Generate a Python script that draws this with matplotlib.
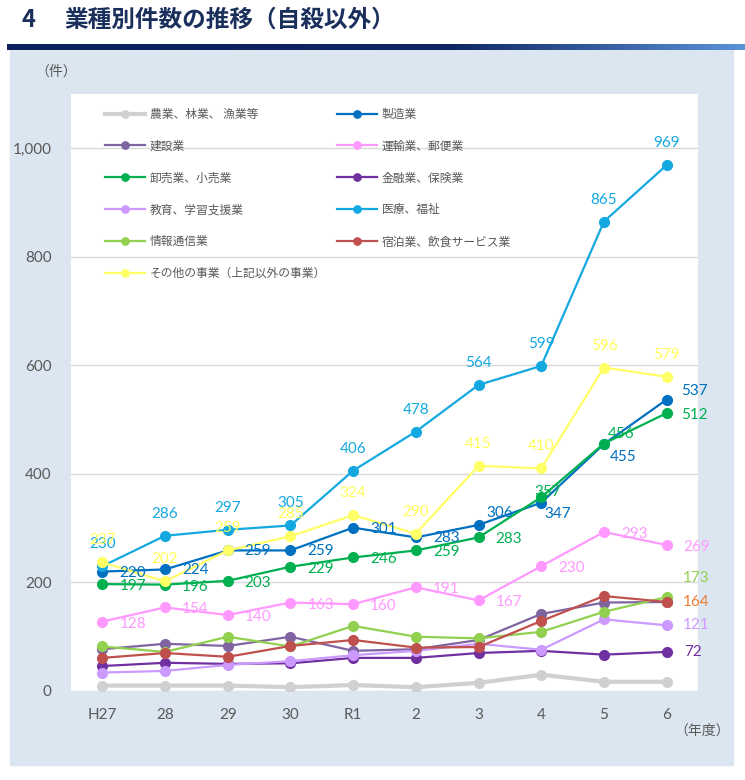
import numpy as np
import matplotlib
matplotlib.use('Agg')
import matplotlib.pyplot as plt
from matplotlib.patches import Rectangle
from matplotlib.colors import LinearSegmentedColormap
from matplotlib.ticker import FuncFormatter

plt.rcParams['font.family'] = ['Lato', 'Noto Sans CJK JP']

# データ
years = ['H27', '28', '29', '30', 'R1', '2', '3', '4', '5', '6']
agri = [10, 10, 10, 7, 11, 7, 15, 30, 17, 17]
manuf = [220, 224, 259, 259, 301, 283, 306, 347, 455, 537]
constr = [77, 87, 83, 100, 74, 77, 94, 142, 163, 164]
transport = [128, 154, 140, 163, 160, 191, 167, 230, 293, 269]
wholesale = [197, 196, 203, 229, 246, 259, 283, 357, 456, 512]
finance = [46, 52, 50, 51, 61, 61, 70, 74, 67, 72]
edu = [34, 37, 48, 55, 66, 74, 87, 76, 132, 121]
medical = [230, 286, 297, 305, 406, 478, 564, 599, 865, 969]
info = [82, 72, 100, 82, 120, 100, 97, 109, 146, 173]
accom = [61, 70, 63, 83, 94, 80, 81, 129, 175, 164]
other = [237, 202, 259, 285, 324, 290, 415, 410, 596, 579]

W, H = 745, 780
fig = plt.figure(figsize=(W / 100, H / 100), dpi=100)

def fx(px):
    return px / W

def fy(py):
    return 1 - py / H

# 背景パネルと見出しのバー
fig.patches.append(Rectangle((fx(10), fy(765)), fx(733) - fx(10), fy(50) - fy(765),
                             transform=fig.transFigure, color='#dce6f1', zorder=-1))
bar = fig.add_axes([fx(7), fy(50), fx(745) - fx(7), fy(44) - fy(50)])
cmap = LinearSegmentedColormap.from_list('bar', [(0, '#0b1f5c'), (0.6, '#0d2563'), (1, '#5b92d8')])
bar.imshow(np.linspace(0, 1, 256)[None, :], aspect='auto', cmap=cmap)
bar.axis('off')

fig.text(fx(28), fy(20), '4', fontsize=17, fontweight='bold', color='#1b2f5c',
         ha='center', va='center', family=['Noto Sans CJK JP'])
fig.text(fx(64), fy(20), '業種別件数の推移（自殺以外）', fontsize=17, fontweight='bold',
         color='#1b2f5c', ha='left', va='center', family=['Noto Sans CJK JP'])
fig.text(fx(56), fy(72), '（件）', fontsize=10, color='#595959', ha='center', va='center',
         family=['Noto Sans CJK JP'])
fig.text(fx(702), fy(731), '（年度）', fontsize=10, color='#595959', ha='center', va='center',
         family=['Noto Sans CJK JP'])

ax = fig.add_axes([fx(71), fy(691), fx(698) - fx(71), fy(94) - fy(691)])
ax.set_facecolor('white')
x = np.arange(len(years))

series = [
    ('農業、林業、 漁業等', agri, '#d0d0d0', 3.0),
    ('製造業', manuf, '#0070c0', 1.6),
    ('建設業', constr, '#8064a2', 1.6),
    ('運輸業、郵便業', transport, '#ff99ff', 1.6),
    ('卸売業、小売業', wholesale, '#00b050', 1.6),
    ('金融業、保険業', finance, '#7030a0', 1.6),
    ('教育、学習支援業', edu, '#cc99ff', 1.6),
    ('医療、福祉', medical, '#14a8e0', 1.6),
    ('情報通信業', info, '#92d050', 1.6),
    ('宿泊業、飲食サービス業', accom, '#c0504d', 1.6),
    ('その他の事業（上記以外の事業）', other, '#ffff66', 1.6),
]
handles = {}
for name, vals, col, lw in series:
    ln, = ax.plot(x, vals, color=col, lw=lw, marker='o', ms=7, label=name)
    handles[name] = ln

# データラベル
def lab(vals, i, col, dx, dy, ha='left'):
    ax.annotate(str(vals[i]), (x[i], vals[i]), xytext=(dx, dy), textcoords='offset pixels',
                ha=ha, va='center', fontsize=11, color=col)

for i in range(len(years)):
    lab(medical, i, '#14a8e0', 0, 22, 'center')
    lab(other, i, '#ffff55', 0, 22, 'center')
    lab(transport, i, '#ff99ff', 17, -2)

manuf_off = {6: (8, 12), 7: (3, -11), 8: (6, -13), 9: (14, 9)}
whole_off = {7: (-7, 5), 8: (4, 10), 9: (14, -2)}
for i in range(len(years)):
    dx, dy = manuf_off.get(i, (17, -1))
    lab(manuf, i, '#0070c0', dx, dy)
    dx, dy = whole_off.get(i, (17, -2))
    lab(wholesale, i, '#00b050', dx, dy)

last = len(years) - 1
lab(info, last, '#92d050', 16, 19)
lab(accom, last, '#ed7d31', 16, 0)
lab(edu, last, '#cc99ff', 16, 0)
lab(finance, last, '#7030a0', 17, 0)

ax.set_xlim(-0.5, len(years) - 0.5)
ax.set_ylim(0, 1100)
ax.set_xticks(x)
ax.set_xticklabels(years)
ax.set_yticks(range(0, 1001, 200))
ax.yaxis.set_major_formatter(FuncFormatter(lambda v, p: f'{int(v):,}'))
ax.tick_params(length=0, labelsize=11, colors='#595959')
ax.tick_params(axis='y', pad=14)
ax.tick_params(axis='x', pad=12)
for s in ax.spines.values():
    s.set_visible(False)
ax.yaxis.grid(True, color='#d9d9d9', lw=1)
ax.set_axisbelow(True)

col1 = ['農業、林業、 漁業等', '建設業', '卸売業、小売業', '教育、学習支援業', '情報通信業',
        'その他の事業（上記以外の事業）']
col2 = ['製造業', '運輸業、郵便業', '金融業、保険業', '医療、福祉', '宿泊業、飲食サービス業']
order = col1 + col2
leg = ax.legend([handles[n] for n in order], order, loc='upper left', bbox_to_anchor=(0.054, 0.977),
                ncol=2, frameon=False, borderpad=0, borderaxespad=0, handlelength=3.4,
                handletextpad=0.4, labelspacing=1.6, columnspacing=0.9, markerscale=0.75,
                prop={'family': 'Noto Sans CJK JP', 'size': 8.5})
for t in leg.get_texts():
    t.set_color('#595959')

plt.savefig('out.png', dpi=100)
